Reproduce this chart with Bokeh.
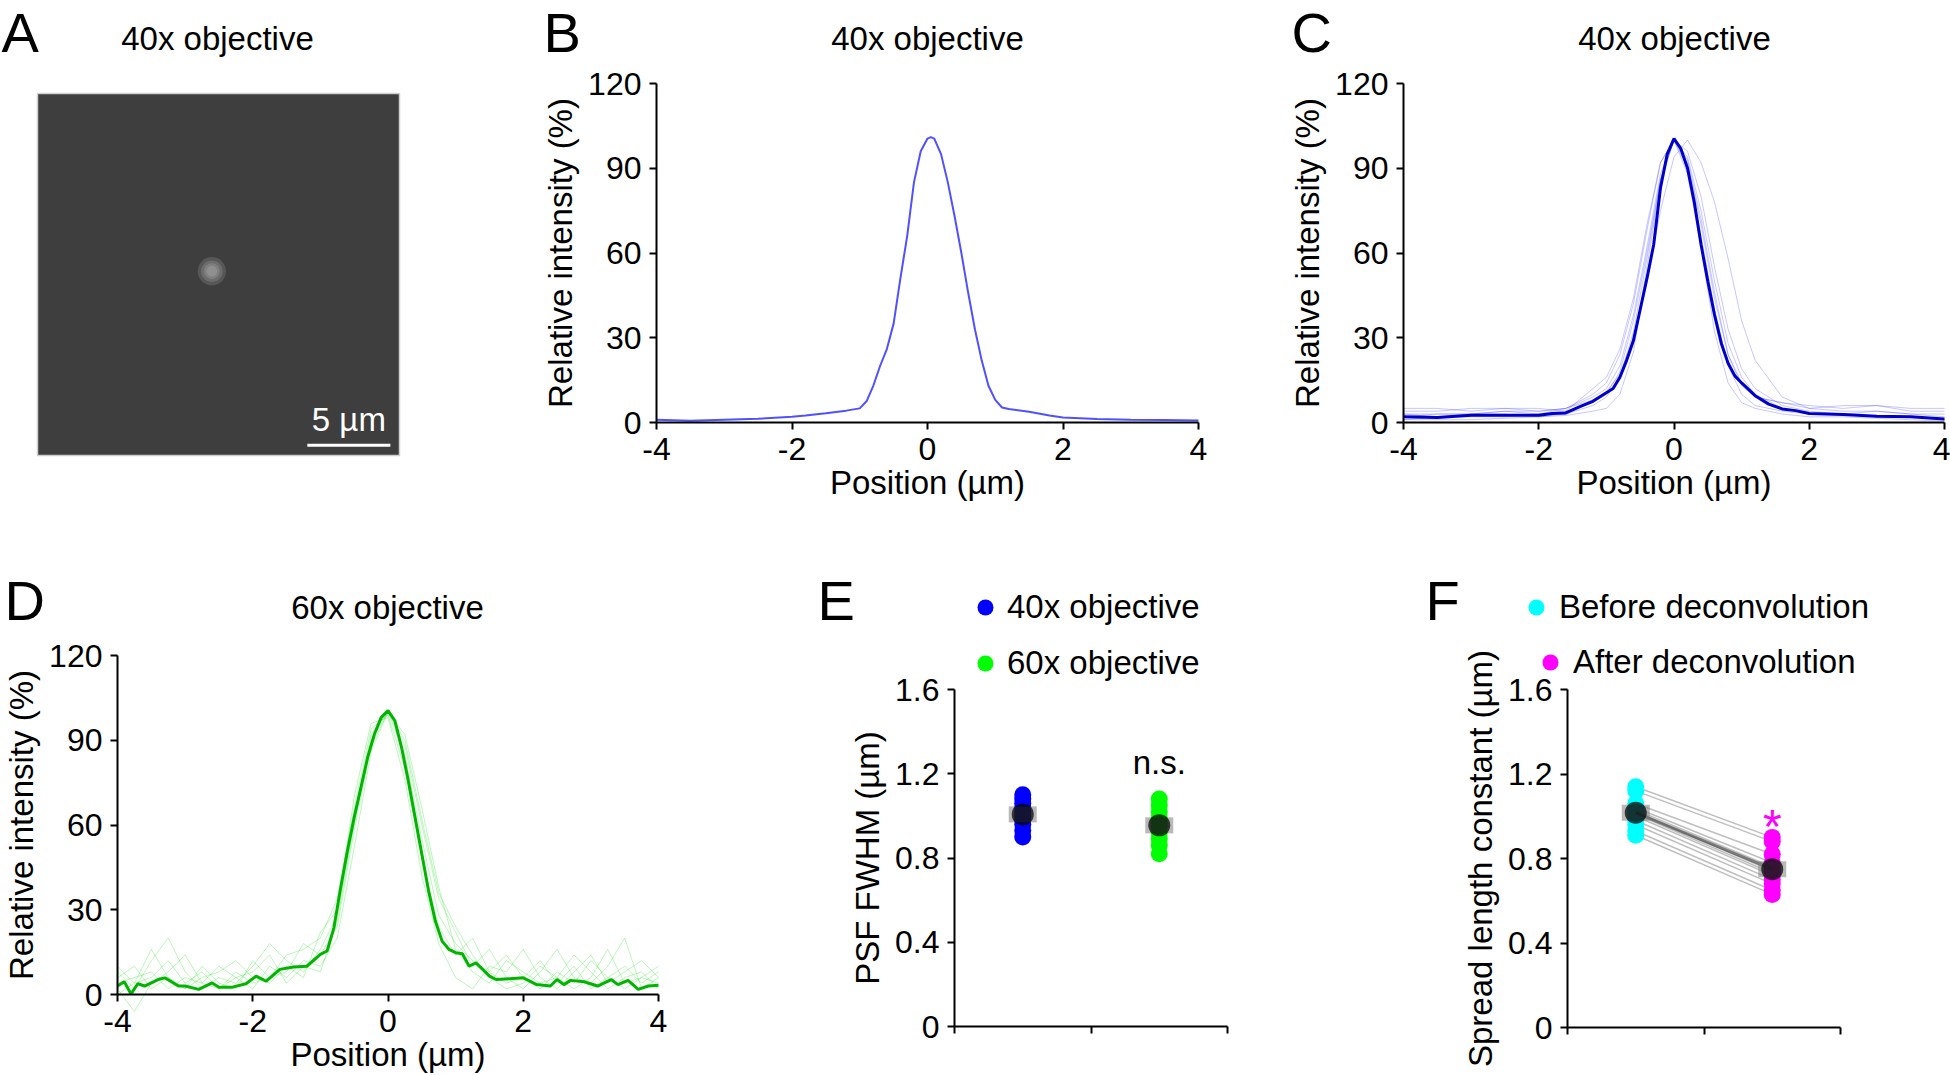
import numpy as np
from bokeh.plotting import figure
from bokeh.models import Label, Legend, LegendItem, FixedTicker, Range1d, LinearAxis
from bokeh.embed import file_html
from bokeh.resources import INLINE

FONT = "Liberation Sans"

# ---------------- data ----------------
# Panel A (micrograph, µm)
image_size_um = 21.8
spot_x_um, spot_y_um = 10.5, 11.1
spot_radii_um = [0.85, 0.65, 0.48, 0.32]
scale_bar_um = 5

# Panel B: single 40x profile
b_x = [-4.0, -3.5, -3.0, -2.5, -2.0, -1.8, -1.5, -1.2, -1.0, -0.9, -0.8, -0.7, -0.6, -0.5,
       -0.4, -0.3, -0.2, -0.1, 0.0, 0.05, 0.1, 0.2, 0.3, 0.4, 0.5, 0.6, 0.7, 0.8, 0.9, 1.0,
       1.1, 1.2, 1.5, 1.8, 2.0, 2.5, 3.0, 3.5, 4.0]
b_y = [1.0, 0.6, 1.0, 1.3, 2.0, 2.5, 3.3, 4.2, 5.0, 7.5, 13, 20, 26, 35,
       51, 66, 85, 96, 100.5, 101, 100.5, 95, 85, 73, 60, 46, 33, 22, 13, 8,
       5.3, 4.8, 3.8, 2.5, 1.8, 1.2, 1.0, 0.9, 0.7]

# Panel C: 40x mean profile and individual profiles
c_x = [-4.0, -3.5, -3.0, -2.5, -2.0, -1.8, -1.6, -1.4, -1.2, -1.0, -0.9, -0.8, -0.7, -0.6,
       -0.5, -0.4, -0.3, -0.2, -0.1, 0.0, 0.1, 0.2, 0.3, 0.4, 0.5, 0.6, 0.7, 0.8, 0.9, 1.0,
       1.2, 1.4, 1.6, 1.8, 2.0, 2.5, 3.0, 3.5, 4.0]
c_mean = [2.0, 1.8, 2.6, 2.6, 2.6, 3.2, 3.4, 5.5, 7.5, 10.5, 12, 16, 22, 29,
          40, 51, 63, 83, 95, 100.5, 97, 90, 78, 63, 50, 38, 28, 21, 16.5, 14,
          9.5, 6.5, 4.8, 4.2, 3.2, 2.8, 2.2, 2.0, 1.2]
c_trace_x = [-4, -3.5, -3, -2.5, -2, -1.6, -1.2, -1.0, -0.8, -0.6, -0.4, -0.2, 0,
             0.2, 0.4, 0.6, 0.8, 1.0, 1.2, 1.6, 2, 2.5, 3, 3.5, 4]
c_traces = [
    [3, 3, 3, 4, 4, 5, 8, 11, 17, 30, 50, 75, 94, 100, 92, 78, 58, 36, 22, 9, 5, 4, 4, 3, 3],
    [1, 1, 1, 1.5, 2, 2.5, 4, 5, 10, 25, 55, 85, 100, 88, 62, 32, 14, 7, 5, 3, 2, 2, 1.5, 1, 0.5],
    [5, 5, 4, 5, 4, 5, 10, 14, 24, 42, 68, 92, 100, 93, 72, 46, 24, 13, 9, 7, 5, 6, 6, 5, 5],
    [2, 3, 3, 4, 3, 5, 9, 12, 20, 38, 62, 88, 100, 94, 75, 50, 28, 16, 10, 5, 3, 3, 2, 2, 1],
    [4, 4, 5, 5, 5, 4, 7, 10, 18, 36, 60, 86, 100, 92, 70, 44, 24, 14, 9, 7, 6, 5, 6, 4, 4],
    [1, 2, 2, 2, 3, 4, 12, 16, 26, 44, 70, 92, 100, 96, 80, 55, 33, 19, 12, 6, 4, 3, 2, 2, 1],
    [3, 2, 3, 3, 2, 3, 6, 9, 16, 32, 58, 86, 100, 90, 66, 40, 20, 10, 6, 4, 3, 3, 4, 3, 2],
]

# Panel D: 60x mean profile and individual profiles
d_x = [-4.0, -3.9, -3.8, -3.7, -3.6, -3.4, -3.3, -3.1, -3.0, -2.8, -2.6, -2.5, -2.3, -2.1,
       -1.95, -1.8, -1.6, -1.4, -1.2, -1.0, -0.9, -0.8, -0.7, -0.6, -0.5, -0.4, -0.3, -0.2,
       -0.1, 0.0, 0.1, 0.2, 0.3, 0.4, 0.5, 0.6, 0.7, 0.8, 0.9, 1.0, 1.1, 1.2, 1.3, 1.4, 1.5,
       1.6, 1.8, 2.0, 2.2, 2.4, 2.5, 2.6, 2.7, 2.9, 3.1, 3.3, 3.4, 3.55, 3.7, 3.85, 4.0]
d_mean = [3.0, 4.5, 0.2, 3.8, 3.0, 5.3, 5.9, 3.0, 3.0, 1.8, 4.1, 2.6, 2.6, 3.8,
          6.5, 4.7, 8.9, 9.7, 10, 14.2, 15.4, 23.6, 37.8, 50.8, 62.7, 73.3, 84, 92.2,
          98.1, 100.5, 97, 87.5, 75.7, 62.7, 49.7, 36.7, 26, 18.9, 16, 14.8, 14.4, 10, 11.2, 8.9, 6.5,
          5.3, 5.6, 5.9, 3.5, 3.0, 5.3, 3.5, 5.0, 4.5, 3.0, 5.3, 3.5, 5.0, 1.8, 3.0, 3.3]
d_trace_x = [-4, -3.75, -3.5, -3.25, -3, -2.75, -2.5, -2.25, -2, -1.75, -1.5, -1.25, -1,
             -0.75, -0.5, -0.25, 0, 0.25, 0.5, 0.75, 1, 1.25, 1.5, 1.75, 2, 2.25, 2.5,
             2.75, 3, 3.25, 3.5, 3.75, 4]
d_traces = [
    [8, 2, 12, 20, 8, 2, 6, 4, 10, 18, 12, 8, 16, 28, 62, 92, 100, 85, 55, 28, 18, 12, 8, 4, 6, 12, 4, 10, 2, 6, 10, 4, 8],
    [2, -6, 4, 8, 14, 4, 2, 8, 4, 6, 14, 16, 20, 34, 66, 94, 99, 80, 48, 24, 14, 20, 8, 14, 6, 2, 8, 4, 12, 6, 2, 6, 4],
    [6, 10, 2, 6, 2, 10, 4, 2, 12, 6, 8, 18, 14, 24, 58, 88, 100, 88, 60, 34, 22, 10, 16, 6, 2, 8, 16, 6, 4, 10, 20, 2, 6],
    [4, 6, 8, 2, 6, 4, 10, 6, 2, 10, 6, 12, 10, 20, 52, 86, 100, 92, 66, 38, 16, 8, 4, 12, 8, 4, 6, 14, 8, 2, 6, 8, 2],
    [0, 4, 16, 6, 2, 6, 8, 12, 6, 4, 10, 6, 22, 30, 70, 96, 98, 76, 42, 18, 6, 2, 10, 8, 16, 6, 2, 8, 14, 4, 8, 12, 6],
    [10, 4, 6, 12, 4, 8, 2, 6, 8, 14, 4, 10, 8, 26, 60, 90, 100, 90, 62, 36, 24, 14, 6, 2, 4, 10, 6, 2, 6, 16, 4, 6, 10],
]

# Panel E: PSF FWHM (µm)
e_groups = ["40x objective", "60x objective"]
e_pos = [1, 3]
e_40x = [1.10, 1.08, 1.06, 1.04, 1.02, 1.00, 0.98, 0.96, 0.93, 0.90]
e_60x = [1.08, 1.05, 1.02, 0.99, 0.97, 0.95, 0.92, 0.89, 0.86, 0.82]

# Panel F: spread length constant (µm), paired
f_groups = ["Before deconvolution", "After deconvolution"]
f_pos = [1, 3]
f_before = [1.14, 1.12, 1.06, 1.04, 1.03, 1.02, 1.01, 1.00, 0.98, 0.96, 0.93, 0.91]
f_after = [0.90, 0.88, 0.82, 0.78, 0.76, 0.74, 0.73, 0.72, 0.70, 0.68, 0.65, 0.63]

profile_xticks = [-4, -2, 0, 2, 4]
profile_xtick_labels = ["-4", "-2", "0", "2", "4"]
profile_yticks = [0, 30, 60, 90, 120]
bar_xticks = [0, 2, 4]
bar_yticks = [0, 0.4, 0.8, 1.2, 1.6]
bar_ytick_labels = ["0", "0.4", "0.8", "1.2", "1.6"]

# ---------------- layout geometry (page pixels) ----------------
PX0, PX1, PY0, PY1 = 0, 1950, 0, 1075
BASE_SHIFT = 0.35  # em offset of the rendered alphabetic baseline
LETTER = 56
G = {
    "A": dict(left=37, right=399, top=93, bottom=455, xr=(0, image_size_um), yr=(0, image_size_um)),
    "B": dict(left=656, right=1198, top=83, bottom=422, xr=(-4, 4), yr=(0, 120)),
    "C": dict(left=1403, right=1944, top=83, bottom=422, xr=(-4, 4), yr=(0, 120)),
    "D": dict(left=117, right=658, top=655, bottom=994, xr=(-4, 4), yr=(0, 120)),
    "E": dict(left=954, right=1227, top=689, bottom=1026, xr=(0, 4), yr=(0, 1.6)),
    "F": dict(left=1567, right=1840, top=689, bottom=1027, xr=(0, 4), yr=(0, 1.6)),
}

p = figure(width=PX1 - PX0, height=PY1 - PY0,
           x_range=Range1d(PX0, PX1), y_range=Range1d(PY1, PY0),
           output_backend="svg", toolbar_location=None,
           x_axis_location=None, y_axis_location=None,
           min_border=0, min_border_left=0, min_border_right=0,
           min_border_top=0, min_border_bottom=0)
p.outline_line_color = None
p.grid.visible = False
p.background_fill_color = "white"
p.border_fill_color = "white"

xr_extra, yr_extra = {}, {}
for k, g in G.items():
    x0, x1 = g["xr"]
    y0, y1 = g["yr"]
    sx = (x1 - x0) / (g["right"] - g["left"])
    sy = (y1 - y0) / (g["bottom"] - g["top"])
    xr_extra[k] = Range1d(x0 - (g["left"] - PX0) * sx, x1 + (PX1 - g["right"]) * sx)
    yr_extra[k] = Range1d(y0 - (PY1 - g["bottom"]) * sy, y1 + (g["top"] - PY0) * sy)
p.extra_x_ranges = xr_extra
p.extra_y_ranges = yr_extra


def px_per_unit_y(k):
    g = G[k]
    return (g["bottom"] - g["top"]) / (g["yr"][1] - g["yr"][0])


def txt(X, Y, text, size, align="left", color="black"):
    p.add_layout(Label(x=X, y=Y - BASE_SHIFT * size, text=text, text_font=FONT,
                       text_font_size=f"{size}px", text_align=align,
                       text_baseline="alphabetic", text_color=color))


def dtxt(k, x, y, text, size, color="black"):
    # text whose baseline sits at data value y of panel k
    yy = y + BASE_SHIFT * size / px_per_unit_y(k)
    p.add_layout(Label(x=x, y=yy, text=text, text_font=FONT, text_font_size=f"{size}px",
                       text_align="center", text_baseline="alphabetic", text_color=color,
                       x_range_name=k, y_range_name=k))


def style_axis(ax):
    ax.axis_line_width = 2
    ax.axis_line_color = "black"
    ax.major_tick_line_width = 2
    ax.major_tick_line_color = "black"
    ax.major_tick_out = 7
    ax.major_tick_in = 0
    ax.minor_tick_line_color = None
    ax.major_label_text_font = FONT
    ax.major_label_text_font_size = "32px"
    ax.major_label_text_color = "black"
    ax.major_label_standoff = 8
    ax.axis_label_text_font = FONT
    ax.axis_label_text_font_size = "33px"
    ax.axis_label_text_font_style = "normal"
    ax.axis_label_text_color = "black"


def add_axes(k, xticks, yticks, ylabel, xlabel=None, xlabels=None, ylabels=None):
    g = G[k]
    xa = LinearAxis(x_range_name=k, y_range_name=k, fixed_location=g["yr"][0],
                    bounds=g["xr"], ticker=FixedTicker(ticks=xticks))
    ya = LinearAxis(x_range_name=k, y_range_name=k, fixed_location=g["xr"][0],
                    bounds=g["yr"], ticker=FixedTicker(ticks=yticks))
    style_axis(xa)
    style_axis(ya)
    ya.axis_label = ylabel
    ya.axis_label_standoff = 6
    if xlabel:
        xa.axis_label = xlabel
        xa.axis_label_standoff = 1
    if ylabels:
        ya.major_label_overrides = {t: l for t, l in zip(yticks, ylabels)}
    xa.major_label_overrides = {t: l for t, l in zip(xticks, xlabels)}
    p.add_layout(xa, "below")
    p.add_layout(ya, "left")


def R(k):
    return dict(x_range_name=k, y_range_name=k)


# ---------------- Panel A ----------------
p.rect(x=[image_size_um / 2], y=[image_size_um / 2], width=image_size_um, height=image_size_um,
       fill_color="#3e3e3e", line_color="#cfcfcf", line_width=1.5, **R("A"))
for r in spot_radii_um:
    p.circle(x=[spot_x_um], y=[spot_y_um], radius=r, fill_color="white", fill_alpha=0.13,
             line_color=None, **R("A"))
sb_x1 = image_size_um - 0.55
p.line(x=[sb_x1 - scale_bar_um, sb_x1], y=[0.62, 0.62], line_color="white", line_width=3, **R("A"))
dtxt("A", sb_x1 - scale_bar_um / 2, 1.5, "5 µm", 33, color="white")
txt(1, 52, "A", LETTER)
txt(217, 50, "40x objective", 33, align="center")

# ---------------- Panel B ----------------
p.line(b_x, b_y, line_color="#5050ff", line_width=2, **R("B"))
add_axes("B", profile_xticks, profile_yticks, "Relative intensity (%)", "Position (µm)",
         xlabels=profile_xtick_labels)
txt(543, 52, "B", LETTER)
txt(927, 50, "40x objective", 33, align="center")

# ---------------- Panel C ----------------
for tr in c_traces:
    p.line(c_trace_x, tr, line_color="#2020ff", line_alpha=0.25, line_width=1, **R("C"))
p.line(c_x, c_mean, line_color="#0000c8", line_width=3, **R("C"))
add_axes("C", profile_xticks, profile_yticks, "Relative intensity (%)", "Position (µm)",
         xlabels=profile_xtick_labels)
txt(1291, 52, "C", LETTER)
txt(1674, 50, "40x objective", 33, align="center")

# ---------------- Panel D ----------------
for tr in d_traces:
    p.line(d_trace_x, tr, line_color="#20e020", line_alpha=0.3, line_width=1, **R("D"))
p.line(d_x, d_mean, line_color="#00b400", line_width=3, **R("D"))
add_axes("D", profile_xticks, profile_yticks, "Relative intensity (%)", "Position (µm)",
         xlabels=profile_xtick_labels)
txt(4, 620, "D", LETTER)
txt(387, 619, "60x objective", 33, align="center")


def mean_marker(k, xpos, vals):
    m = float(np.mean(vals))
    p.rect(x=[xpos], y=[m], width=28, height=16, width_units="screen", height_units="screen",
           fill_color="#808080", fill_alpha=0.55, line_color=None, **R(k))
    p.scatter(x=[xpos], y=[m], size=22, marker="circle", fill_color="black", fill_alpha=0.72,
              line_color=None, **R(k))
    return m


def legend(items, left_px, bottom_px, spacing=0, standoff=2):
    return Legend(items=items, location=(left_px - PX0, PY1 - bottom_px), glyph_width=40,
                  glyph_height=40, label_height=40, spacing=spacing, padding=0, margin=0,
                  border_line_color=None, background_fill_alpha=0, label_text_font=FONT,
                  label_text_font_size="33px", label_text_color="black",
                  label_standoff=standoff)


# ---------------- Panel E ----------------
rE1 = p.scatter(x=[e_pos[0]] * len(e_40x), y=e_40x, size=17, marker="circle",
                fill_color="#0000ff", line_color=None, **R("E"))
rE2 = p.scatter(x=[e_pos[1]] * len(e_60x), y=e_60x, size=17, marker="circle",
                fill_color="#00ff00", line_color=None, **R("E"))
mean_marker("E", e_pos[0], e_40x)
mean_marker("E", e_pos[1], e_60x)
add_axes("E", bar_xticks, bar_yticks, "PSF FWHM (µm)", xlabels=["", "", ""],
         ylabels=bar_ytick_labels)
dtxt("E", e_pos[1], 1.2, "n.s.", 33)
p.add_layout(legend([LegendItem(label=e_groups[0], renderers=[rE1]),
                     LegendItem(label=e_groups[1], renderers=[rE2])], 965, 683, spacing=16))
txt(817, 620, "E", LETTER)

# ---------------- Panel F ----------------
p.multi_line(xs=[[f_pos[0], f_pos[1]] for _ in f_before],
             ys=[[b, a] for b, a in zip(f_before, f_after)],
             line_color="#808080", line_alpha=0.5, line_width=1.5, **R("F"))
rF1 = p.scatter(x=[f_pos[0]] * len(f_before), y=f_before, size=17, marker="circle",
                fill_color="#00ffff", line_color=None, **R("F"))
rF2 = p.scatter(x=[f_pos[1]] * len(f_after), y=f_after, size=17, marker="circle",
                fill_color="#ff00ff", line_color=None, **R("F"))
p.line(x=f_pos, y=[float(np.mean(f_before)), float(np.mean(f_after))],
       line_color="#505050", line_alpha=0.75, line_width=3, **R("F"))
mean_marker("F", f_pos[0], f_before)
mean_marker("F", f_pos[1], f_after)
add_axes("F", bar_xticks, bar_yticks, "Spread length constant (µm)", xlabels=["", "", ""],
         ylabels=bar_ytick_labels)
dtxt("F", f_pos[1], 0.87, "*", 48, color="#ff00ff")
p.add_layout(legend([LegendItem(label=f_groups[0], renderers=[rF1])], 1516, 627, standoff=3))
p.add_layout(legend([LegendItem(label=f_groups[1], renderers=[rF2])], 1530, 682, standoff=3))
txt(1425, 620, "F", LETTER)

open("out.html", "w").write(file_html(p, INLINE))
